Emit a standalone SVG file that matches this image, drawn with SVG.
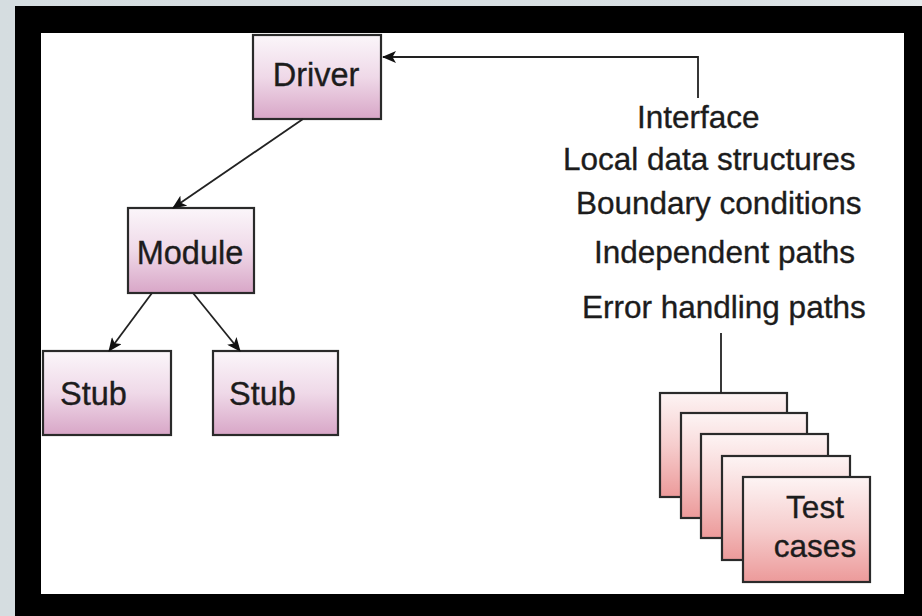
<svg xmlns="http://www.w3.org/2000/svg" width="922" height="616" viewBox="0 0 922 616">
  <defs>
    <linearGradient id="mauve" x1="0" y1="0" x2="0" y2="1">
      <stop offset="0" stop-color="#fbf6fa"/>
      <stop offset="0.5" stop-color="#efd9e8"/>
      <stop offset="1" stop-color="#d8a6c7"/>
    </linearGradient>
    <linearGradient id="salmon" x1="0" y1="0" x2="0" y2="1">
      <stop offset="0" stop-color="#fdf4f4"/>
      <stop offset="0.5" stop-color="#f6cdcd"/>
      <stop offset="1" stop-color="#ec9a9a"/>
    </linearGradient>
    <linearGradient id="topband" x1="0" y1="0" x2="1" y2="0">
      <stop offset="0" stop-color="#d5dde0"/>
      <stop offset="0.8" stop-color="#d9e0e3"/>
      <stop offset="1" stop-color="#e4e9eb"/>
    </linearGradient>
    <marker id="arrow" viewBox="0 0 14 12" refX="13" refY="6" markerWidth="14" markerHeight="12" markerUnits="userSpaceOnUse" orient="auto">
      <path d="M0,0 L14,6 L0,12 L3.5,6 Z" fill="#111"/>
    </marker>
  </defs>
  <style>
    .box { fill: url(#mauve); stroke: #2a2a2a; stroke-width: 2.2; }
    .card { fill: url(#salmon); stroke: #2a2a2a; stroke-width: 2.2; }
    .lbl { font-family: "Liberation Sans", Arial, sans-serif; font-size: 31.5px; fill: #1c1c1c; stroke: #1c1c1c; stroke-width: 0.35; }
    .big { font-size: 32.5px; }
    .edge { fill: none; stroke: #222; stroke-width: 1.8; }
  </style>

  <!-- page frame -->
  <rect x="0" y="0" width="922" height="616" fill="url(#topband)"/>
  <rect x="15" y="6" width="907" height="610" fill="#000"/>
  <rect x="41" y="33" width="863" height="561" fill="#fff"/>

  <g id="driver">
    <rect class="box" x="253" y="35" width="128" height="84"/>
    <text class="lbl big" x="316" y="86" text-anchor="middle">Driver</text>
  </g>
  <g id="module">
    <rect class="box" x="128" y="208" width="126" height="85"/>
    <text class="lbl big" x="190" y="264" text-anchor="middle">Module</text>
  </g>
  <g id="stub-left">
    <rect class="box" x="43" y="351" width="128" height="84"/>
    <text class="lbl big" x="60" y="405">Stub</text>
  </g>
  <g id="stub-right">
    <rect class="box" x="213" y="351" width="125" height="84"/>
    <text class="lbl big" x="229" y="405">Stub</text>
  </g>

  <g id="criteria">
    <text class="lbl" x="637" y="128">Interface</text>
    <text class="lbl" x="563" y="170">Local data structures</text>
    <text class="lbl" x="576" y="214">Boundary conditions</text>
    <text class="lbl" x="594" y="263">Independent paths</text>
    <text class="lbl" x="582" y="318">Error handling paths</text>
  </g>

  <g id="test-cases">
    <rect class="card" x="660" y="393" width="127" height="104"/>
    <rect class="card" x="681" y="413" width="126" height="105"/>
    <rect class="card" x="701" y="434" width="127" height="104"/>
    <rect class="card" x="722" y="456" width="128" height="104"/>
    <rect class="card" x="743" y="477" width="127" height="105"/>
    <text class="lbl" x="815" y="518" text-anchor="middle">Test</text>
    <text class="lbl" x="815" y="557" text-anchor="middle">cases</text>
  </g>

  <g id="connectors">
    <polyline class="edge" points="698,98 698,57 383,57" marker-end="url(#arrow)"/>
    <line class="edge" x1="303" y1="119" x2="173" y2="208" marker-end="url(#arrow)"/>
    <line class="edge" x1="152" y1="293" x2="109" y2="351" marker-end="url(#arrow)"/>
    <line class="edge" x1="193" y1="293" x2="240" y2="351" marker-end="url(#arrow)"/>
    <line class="edge" x1="721" y1="333" x2="721" y2="393"/>
  </g>
</svg>
